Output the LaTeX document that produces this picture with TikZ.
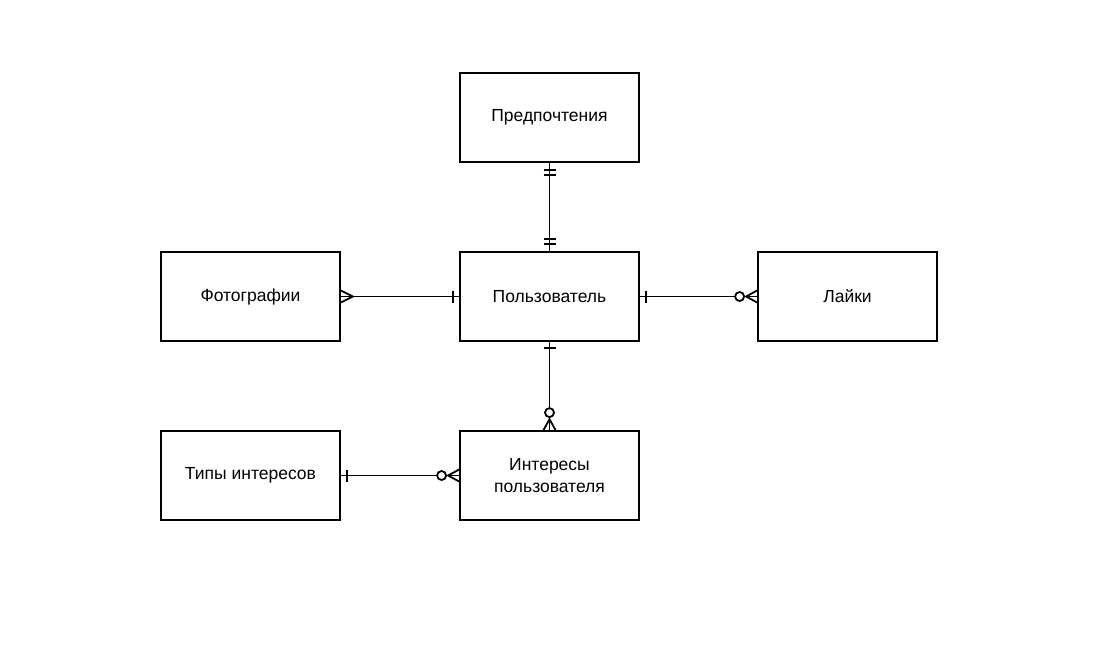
\documentclass[tikz,border=0pt]{standalone}
\usepackage{fontspec}
\setmainfont{Liberation Sans}
\usetikzlibrary{calc}
\begin{document}
\begin{tikzpicture}[x=1pt,y=-1pt,
  entity/.style={draw,line width=1.8pt,minimum width=179pt,minimum height=89pt,inner sep=2pt,align=center,font=\fontsize{17.5}{22}\selectfont},
  conn/.style={line width=1.8pt},
  zero/.style={line width=1.8pt,fill=white}]
\useasboundingbox (0,0) rectangle (1118,656);
\fill[white] (0,0) rectangle (1118,656);
\node[entity] (pre) at (549.5,117.5) {Предпочтения};
\node[entity] (usr) at (549.5,296.5) {Пользователь};
\node[entity] (foto) at (250.5,296.5) {Фотографии};
\node[entity] (like) at (847.5,296.5) {Лайки};
\node[entity] (tipy) at (250.5,475.5) {Типы интересов};
\node[entity] (intr) at (549.5,475.5) {Интересы\\пользователя};
% Предпочтения -- Пользователь (one and only one both ends)
\draw[conn] (pre.south) -- (usr.north);
\draw[conn] ($(pre.south)+(-6,7)$) -- ++(12,0);
\draw[conn] ($(pre.south)+(-6,12)$) -- ++(12,0);
\draw[conn] ($(usr.north)+(-6,-12)$) -- ++(12,0);
\draw[conn] ($(usr.north)+(-6,-7)$) -- ++(12,0);
% Фотографии -- Пользователь
\draw[conn] (foto.east) -- (usr.west);
\draw[conn] ($(usr.west)+(-6,-6)$) -- ++(0,12);
\draw[conn] ($(foto.east)+(0,-6)$) -- ($(foto.east)+(12,0)$) -- ($(foto.east)+(0,6)$);
% Пользователь -- Лайки
\draw[conn] (usr.east) -- (like.west);
\draw[conn] ($(usr.east)+(6,-6)$) -- ++(0,12);
\draw[conn] ($(like.west)+(0,-6)$) -- ($(like.west)+(-11,0)$) -- ($(like.west)+(0,6)$);
\draw[zero] ($(like.west)+(-17.5,0)$) circle (4.5);
% Пользователь -- Интересы пользователя
\draw[conn] (usr.south) -- (intr.north);
\draw[conn] ($(usr.south)+(-6,6)$) -- ++(12,0);
\draw[conn] ($(intr.north)+(-6,0)$) -- ($(intr.north)+(0,-11)$) -- ($(intr.north)+(6,0)$);
\draw[zero] ($(intr.north)+(0,-17.5)$) circle (4.5);
% Типы интересов -- Интересы пользователя
\draw[conn] (tipy.east) -- (intr.west);
\draw[conn] ($(tipy.east)+(6,-6)$) -- ++(0,12);
\draw[conn] ($(intr.west)+(0,-6)$) -- ($(intr.west)+(-11,0)$) -- ($(intr.west)+(0,6)$);
\draw[zero] ($(intr.west)+(-17.5,0)$) circle (4.5);
\end{tikzpicture}
\end{document}
